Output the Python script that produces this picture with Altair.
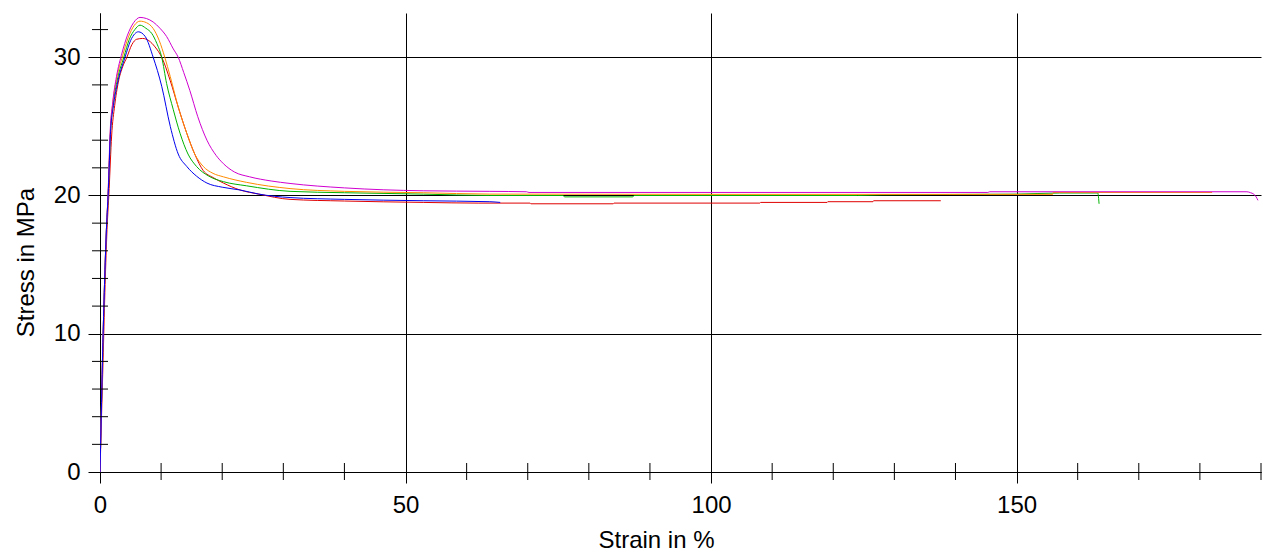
import altair as alt
import pandas as pd

# ---------------- data ----------------
series_names = ["red", "green", "orange", "magenta", "blue"]
series_colors = ["#e00000", "#00b400", "#ff8c00", "#d000d0", "#0000ee"]

red_strain = [0, 0.25, 0.5, 0.8, 1.1, 1.5, 1.9, 2.4, 3.0, 3.7, 4.4, 5.2, 6.0, 6.98, 8.0, 9.0, 10.1, 11.5, 12.8,
              14.2, 15.5, 16.9, 18.5, 20.2, 22.9, 26, 31.1, 40, 52.9, 62, 70.4, 70.5, 84, 84.1, 108, 108.1, 119,
              119.1, 126.5, 126.6, 137.6]
red_stress = [0, 4, 8, 13, 17, 20.5, 24.3, 26.5, 28.2, 29.3, 30.0, 30.9, 31.3, 31.36, 31.2, 30.75, 30.0, 28.3, 26.4,
              24.5, 23.0, 21.8, 21.3, 20.9, 20.4, 20.1, 19.72, 19.6, 19.5, 19.45, 19.45, 19.4, 19.4, 19.45, 19.45,
              19.5, 19.5, 19.55, 19.55, 19.62, 19.62]

green_strain = [0, 0.2, 0.4, 0.7, 1.0, 1.38, 1.7, 2.15, 2.75, 3.9, 4.8, 5.7, 6.55, 7.5, 8.5, 9.3, 10.1, 10.9, 12.0,
                13.1, 14.4, 15.8, 17.8, 20.2, 24, 31.1, 40, 52.9, 63.8, 75.8, 76, 87.2, 87.4, 124, 128, 150, 157,
                163.3, 163.4, 163.5]
green_stress = [0, 4, 8, 13, 17, 20.5, 24.4, 26.6, 28.2, 30.0, 31.3, 32.0, 32.32, 32.1, 31.7, 31.0, 30.0, 28.1, 26.2,
                24.5, 23.0, 22.1, 21.4, 21.0, 20.7, 20.3, 20.2, 20.1, 20.0, 20.0, 19.9, 19.9, 20.0, 20.0, 20.05, 20.1,
                20.18, 20.18, 19.9, 19.4]

orange_strain = [0, 0.2, 0.4, 0.7, 1.0, 1.36, 1.68, 2.1, 2.7, 3.7, 4.6, 5.6, 6.55, 7.6, 8.7, 9.7, 10.6, 11.5, 12.8,
                 14.2, 15.5, 16.9, 18.5, 20.2, 24, 31.1, 40, 52.9, 63.8, 100, 155.9, 156, 182]
orange_stress = [0, 4, 8, 13, 17, 20.5, 24.5, 26.7, 28.4, 30.1, 31.4, 32.3, 32.61, 32.5, 32.08, 31.2, 30.0, 28.6, 26.4,
                 24.5, 23.0, 22.1, 21.6, 21.35, 20.95, 20.5, 20.3, 20.2, 20.1, 20.08, 20.08, 20.22, 20.22]

magenta_strain = [0, 0.2, 0.4, 0.7, 1.0, 1.35, 1.65, 2.1, 2.7, 3.6, 4.5, 5.5, 6.55, 7.6, 8.7, 9.8, 10.9, 12.0, 12.8,
                  13.7, 14.7, 16.0, 17.5, 19.0, 20.2, 22.0, 24.5, 28, 31.1, 40, 52.9, 63.8, 69.8, 70.2, 145.3, 145.6,
                  187.7, 188.3, 188.8, 189.2, 189.5]
magenta_stress = [0, 4, 8, 13, 17, 20.5, 24.5, 26.8, 28.6, 30.3, 31.6, 32.5, 32.88, 32.8, 32.55, 32.1, 31.5, 30.6, 30.0,
                  28.9, 27.6, 25.7, 24.0, 22.9, 22.3, 21.7, 21.35, 21.05, 20.87, 20.55, 20.34, 20.3, 20.27, 20.22,
                  20.22, 20.27, 20.27, 20.2, 20.1, 19.9, 19.65]

blue_strain = [0, 0.2, 0.4, 0.7, 1.0, 1.38, 1.7, 2.2, 2.8, 4.1, 5.0, 5.7, 6.27, 7.4, 8.7, 10.1, 11.5, 12.8, 14.2,
               15.8, 17.5, 20, 22.9, 26, 31.1, 40, 52.9, 63.8, 65.5]
blue_stress = [0, 4, 8, 13, 17, 20.5, 24.4, 26.5, 28.0, 30.0, 31.2, 31.7, 31.84, 31.5, 30.0, 27.9, 25.0, 23.0, 22.1,
               21.4, 20.9, 20.6, 20.4, 20.1, 19.85, 19.72, 19.62, 19.55, 19.5]

x_major = [0, 50, 100, 150]
x_minor = [10, 20, 30, 40, 60, 70, 80, 90, 110, 120, 130, 140, 160, 170, 180, 190]
y_major = [0, 10, 20, 30]
y_minor = [2, 4, 6, 8, 12, 14, 16, 18, 22, 24, 26, 28, 32]

# ---------------- build tables ----------------
all_series = [
    (red_strain, red_stress),
    (green_strain, green_stress),
    (orange_strain, orange_stress),
    (magenta_strain, magenta_stress),
    (blue_strain, blue_stress),
]
rows = []
for name, (xs, ys) in zip(series_names, all_series):
    for i, (x, y) in enumerate(zip(xs, ys)):
        rows.append({"specimen": name, "strain": x, "stress": y, "order": i})
df = pd.DataFrame(rows)
xminor_df = pd.DataFrame({"strain": x_minor})
yminor_df = pd.DataFrame({"stress": y_minor})

W, H = 1161, 459
FONT = "Liberation Sans"
FS = 24

xscale = alt.Scale(domain=[0, 190], nice=False, zero=False)
yscale = alt.Scale(domain=[0, 33.2], nice=False, zero=False)

x_axis = alt.Axis(
    values=x_major, grid=True, gridColor="black", gridOpacity=1, gridWidth=1,
    domainColor="black", domainWidth=1, tickColor="black", tickSize=11, tickWidth=1,
    labelFont=FONT, labelFontSize=FS, labelColor="black", labelPadding=10,
    labelFlush=False, labelOverlap=False,
    title="Strain in %", titleFont=FONT, titleFontSize=FS, titleFontWeight="normal",
    titleColor="black", titleX=556, titleY=75, titleAlign="center", titleBaseline="alphabetic",
)
y_axis = alt.Axis(
    values=y_major, grid=True, gridColor="black", gridOpacity=1, gridWidth=1,
    domainColor="black", domainWidth=1, tickColor="black", tickSize=12, tickWidth=1,
    labelFont=FONT, labelFontSize=FS, labelColor="black", labelPadding=8,
    labelFlush=False, labelOverlap=False,
    title="Stress in MPa", titleFont=FONT, titleFontSize=FS, titleFontWeight="normal",
    titleColor="black", titleX=-67, titleY=249, titleAlign="center", titleBaseline="alphabetic",
    titleAngle=270,
)

lines = alt.Chart(df).mark_line(strokeWidth=1, clip=True, interpolate="monotone").encode(
    x=alt.X("strain:Q", scale=xscale, axis=x_axis),
    y=alt.Y("stress:Q", scale=yscale, axis=y_axis),
    color=alt.Color("specimen:N", scale=alt.Scale(domain=series_names, range=series_colors), legend=None),
    order=alt.Order("order:Q"),
)

xticks = alt.Chart(xminor_df).mark_rule(color="black", strokeWidth=1).encode(
    x=alt.X("strain:Q", scale=xscale, axis=x_axis),
    y=alt.value(H - 9),
    y2=alt.value(H + 8),
)
yticks = alt.Chart(yminor_df).mark_rule(color="black", strokeWidth=1).encode(
    y=alt.Y("stress:Q", scale=yscale, axis=y_axis),
    x=alt.value(-8),
    x2=alt.value(8),
)

chart = alt.layer(lines, xticks, yticks).properties(
    width=W, height=H,
    padding={"left": 100, "top": 13, "right": 3, "bottom": 80},
    autosize=alt.AutoSizeParams(type="none"),
    background="white",
).configure_view(stroke=None)

chart.save("out.html", embed_options={"renderer": "svg", "actions": False})
